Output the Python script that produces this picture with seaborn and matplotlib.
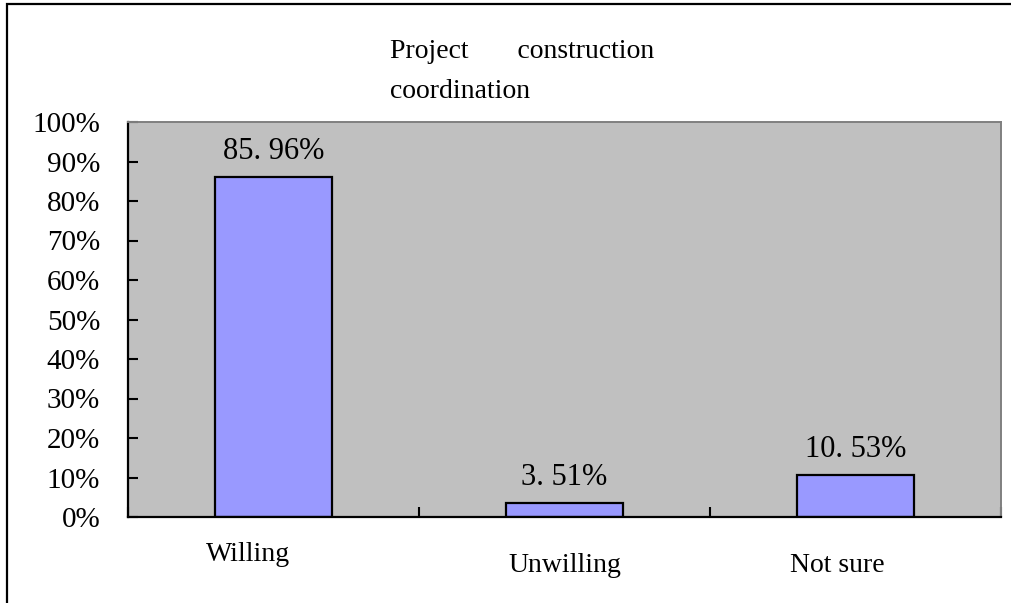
import matplotlib
matplotlib.use("Agg")
import matplotlib.pyplot as plt
import matplotlib.transforms as transforms
from matplotlib.patches import Rectangle
import numpy as np
import pandas as pd
import seaborn as sb

# chart data
categories = ["Willing", "Unwilling", "Not sure"]
shares = [85.96, 3.51, 10.53]
y_ticks = [0, 10, 20, 30, 40, 50, 60, 70, 80, 90, 100]
title_text = "Project       construction\ncoordination"

sb.set_style("white")
plt.rcParams['font.family'] = ['Liberation Serif', 'DejaVu Serif']
plt.rcParams['text.color'] = 'black'
plt.rcParams['xtick.color'] = 'black'
plt.rcParams['ytick.color'] = 'black'
plt.rcParams['xtick.labelcolor'] = 'black'
plt.rcParams['ytick.labelcolor'] = 'black'

df = pd.DataFrame({"Category": categories, "Share": shares})

fig = plt.figure(figsize=(10.12, 6.03), dpi=100)
ax = fig.add_axes([128/1012, 1 - 517/603, 873/1012, 395/603])

sb.barplot(data=df, x="Category", y="Share", color="#9999FF", saturation=1,
           width=0.4, edgecolor="black", linewidth=1.6, ax=ax)

ax.set_facecolor("#C0C0C0")
ax.set_xlim(-0.5, 2.5)
ax.set_ylim(0, 100)
ax.set_xlabel("")
ax.set_ylabel("")

# bar value labels
labels = ["{:.2f}%".format(v).replace(".", ". ") for v in shares]
ax.bar_label(ax.containers[0], labels=labels, padding=8, fontsize=22, color="black")

# y axis
ax.set_yticks(y_ticks)
ax.set_yticklabels(["{}%".format(t) for t in y_ticks], fontsize=21)
ax.tick_params(axis="y", direction="in", length=7, width=1.5, pad=20, left=True)

# x axis: labels at centres, ticks at boundaries
ax.set_xticks(range(len(categories)))
ax.set_xticklabels(categories, fontsize=20)
ax.tick_params(axis="x", which="major", length=0, pad=26)
ax.set_xticks([-0.5, 0.5, 1.5, 2.5], minor=True)
ax.tick_params(axis="x", which="minor", direction="in", length=7, width=1.5, bottom=True)

# odd label placement in the original
shifts = [(-25, 11), (0, 0), (-18, 0)]
for lab, (dx, dy) in zip(ax.get_xticklabels(), shifts):
    lab.set_transform(lab.get_transform() + transforms.ScaledTranslation(dx/100, dy/100, fig.dpi_scale_trans))

for side in ["left", "bottom"]:
    ax.spines[side].set_color("black")
    ax.spines[side].set_linewidth(1.6)
for side in ["top", "right"]:
    ax.spines[side].set_visible(True)
    ax.spines[side].set_color("#808080")
    ax.spines[side].set_linewidth(1.4)

# title
fig.text(390/1012, 1 - 39/603, title_text, ha="left", va="top", fontsize=20,
         linespacing=1.8)

# outer frame (only top and left visible)
fig.add_artist(Rectangle((7/1012, -0.1), 1.2, 1.1 - 4/603, transform=fig.transFigure,
                         fill=False, edgecolor="black", linewidth=1.6))

fig.savefig("out.png", dpi=100)
